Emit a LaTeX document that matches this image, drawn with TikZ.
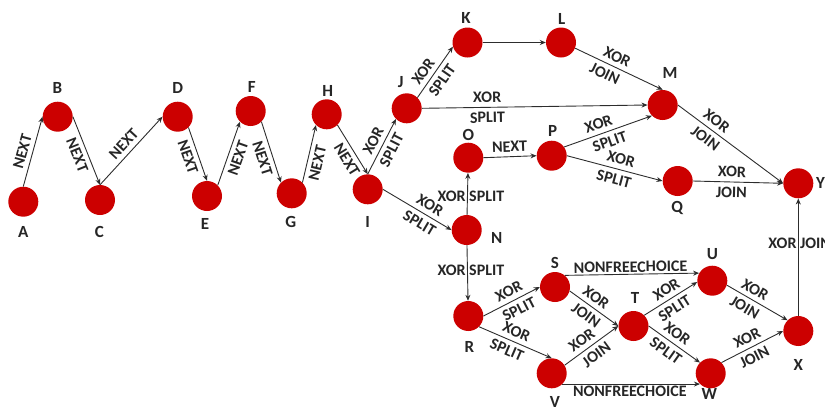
\documentclass[tikz,border=0pt]{standalone}
\usepackage{fontspec}
\setmainfont{Carlito}
\usetikzlibrary{arrows.meta}
\definecolor{nodered}{RGB}{204,0,0}
\definecolor{linegray}{RGB}{45,45,45}
\begin{document}
\begin{tikzpicture}[x=1pt,y=-1pt,
  st/.style={circle,fill=nodered,minimum size=30pt,inner sep=0pt},
  lett/.style={font=\fontsize{17}{17}\selectfont\bfseries,inner sep=0pt,text=black!85},
  arr/.style={draw=linegray,line width=0.9pt,-{Stealth[length=6pt,width=5pt]}},
  el/.style={font=\fontsize{16}{16}\selectfont\bfseries,inner sep=4.5pt,sloped,text=black!85},
  elc/.style={font=\fontsize{16}{16}\selectfont\bfseries,inner sep=1.3pt,text=black!85},
]
\useasboundingbox (0,0) rectangle (825,408);
% states
\node[st] (A) at (23.3,201.7) {};
\node[st] (B) at (57.7,116.7) {};
\node[st] (C) at (100,200) {};
\node[st] (D) at (177.7,116.7) {};
\node[st] (E) at (207,196) {};
\node[st] (F) at (250.7,111) {};
\node[st] (G) at (291.7,193.3) {};
\node[st] (H) at (326.7,114.3) {};
\node[st] (I) at (367.7,189.3) {};
\node[st] (J) at (406.7,108.3) {};
\node[st] (K) at (467.5,42.5) {};
\node[st] (L) at (561,42.5) {};
\node[st] (M) at (662.7,105) {};
\node[st] (N) at (466.7,230) {};
\node[st] (O) at (468.3,157.7) {};
\node[st] (P) at (551.7,155.7) {};
\node[st] (Q) at (677.7,181) {};
\node[st] (Y) at (798.3,183.3) {};
\node[st] (R) at (468.3,316) {};
\node[st] (S) at (555,287) {};
\node[st] (T) at (633.5,326) {};
\node[st] (U) at (712.3,280.7) {};
\node[st] (V) at (551.7,373.3) {};
\node[st] (W) at (710.7,373.3) {};
\node[st] (X) at (798.3,331) {};
% letters
\node[lett] (tA) at (23.3,232) {A};
\node[lett] (tB) at (57.3,88) {B};
\node[lett] (tC) at (99.3,231.7) {C};
\node[lett] (tD) at (177.7,88.3) {D};
\node[lett] (tE) at (205,224) {E};
\node[lett] (tF) at (251.7,86.7) {F};
\node[lett] (tG) at (290.7,221.7) {G};
\node[lett] (tH) at (327.7,90.7) {H};
\node[lett] (tI) at (367.7,221.7) {I};
\node[lett] (tJ) at (400.7,81.7) {J};
\node[lett] (tK) at (466,18.3) {K};
\node[lett] (tL) at (561.7,19.3) {L};
\node[lett] (tM) at (670,73.3) {M};
\node[lett] (tN) at (496.7,238.3) {N};
\node[lett] (tO) at (468.3,135) {O};
\node[lett] (tP) at (552.7,131) {P};
\node[lett] (tQ) at (677.3,207.7) {Q};
\node[lett] (tY) at (820.5,183.3) {Y};
\node[lett] (tR) at (469.3,347.3) {R};
\node[lett] (tS) at (555,263.3) {S};
\node[lett] (tT) at (635,298.3) {T};
\node[lett] (tU) at (712.3,254) {U};
\node[lett] (tV) at (555,402) {V};
\node[lett] (tW) at (709.3,394) {W};
\node[lett] (tX) at (798.3,365) {X};
% transitions
\draw[arr] (A.north) -- node[el,above,pos=0.46]{NEXT} (B.west);
\draw[arr] (B.east) -- node[el,below,pos=0.51]{NEXT} (C.north);
\draw[arr] (C.north) -- node[el,above,pos=0.5]{NEXT} (D.west);
\draw[arr] (D.south east) -- node[el,below,pos=0.49]{NEXT} (E.north);
\draw[arr] (E.north east) -- node[el,below,pos=0.48]{NEXT} (F.south west);
\draw[arr] (F.south east) -- node[el,below,pos=0.55]{NEXT} (G.north west);
\draw[arr] (G.north east) -- node[el,below,pos=0.38]{NEXT} (H.south west);
\draw[arr] (H.south east) -- node[el,below,pos=0.6]{NEXT} (I.north);
\draw[arr] (I.north) -- node[el,above,pos=0.52]{XOR} node[el,below,pos=0.52]{SPLIT} (J.south west);
\draw[arr] (I.east) -- node[el,above,pos=0.61]{XOR} node[el,below,pos=0.61]{SPLIT} (N.west);
\draw[arr] (J.north east) -- node[el,above,pos=0.4]{XOR} node[el,below,pos=0.46]{SPLIT} (K.196);
\draw[arr] (J.east) -- node[el,above,pos=0.29]{XOR} node[el,below,pos=0.29]{SPLIT} (M.west);
\draw[arr] (K.east) -- (L.west);
\draw[arr] (L.-22) -- node[el,above,pos=0.43]{XOR} node[el,below,pos=0.39]{JOIN} (M.north);
\draw[arr] (N) -- node[elc,anchor=east,pos=0.43]{XOR} node[elc,anchor=west,pos=0.43]{SPLIT} (O);
\draw[arr] (O.east) -- node[el,above,pos=0.5]{NEXT} (P.west);
\draw[arr] (P.35) -- node[el,above,pos=0.43]{XOR} node[el,below,pos=0.48]{SPLIT} (M.south west);
\draw[arr] (P.east) -- node[el,above,pos=0.54]{XOR} node[el,below,pos=0.52]{SPLIT} (Q.west);
\draw[arr] (M.east) -- node[el,above,pos=0.31]{XOR} node[el,below,pos=0.32]{JOIN} (Y.west);
\draw[arr] (Q.east) -- node[el,above,pos=0.43]{XOR} node[el,below,pos=0.43]{JOIN} (Y.west);
\draw[arr] (N) -- node[elc,anchor=east,pos=0.45]{XOR} node[elc,anchor=west,pos=0.45]{SPLIT} (R);
\draw[arr] (R.east) -- node[el,above,pos=0.53]{XOR} node[el,below,pos=0.55]{SPLIT} (S.west);
\draw[arr] (R.south east) -- node[el,above,pos=0.46]{XOR} node[el,below,pos=0.44]{SPLIT} (V.north);
\draw[arr] (S.-15) -- node[el,above,pos=0.42]{XOR} node[el,below,pos=0.46]{JOIN} (T.west);
\draw[arr] (V.32) -- node[el,above,pos=0.43]{XOR} node[el,below,pos=0.48]{JOIN} (T.west);
\draw[arr] (S.50) -- node[el,above,inner sep=1.5pt,pos=0.49]{NONFREECHOICE} (U.150);
\draw[arr] (V.south east) -- node[el,below,inner sep=1.5pt,pos=0.49]{NONFREECHOICE} (W.south west);
\draw[arr] (T.north east) -- node[el,above,pos=0.52]{XOR} node[el,below,pos=0.47]{SPLIT} (U.185);
\draw[arr] (T.east) -- node[el,above,pos=0.44]{XOR} node[el,below,pos=0.45]{SPLIT} (W.north west);
\draw[arr] (U.-17) -- node[el,above,pos=0.38]{XOR} node[el,below,pos=0.38]{JOIN} (X.north west);
\draw[arr] (W.north east) -- node[el,above,pos=0.49]{XOR} node[el,below,pos=0.46]{JOIN} (X.west);
\draw[arr] (X) -- node[elc,anchor=east,pos=0.62]{XOR} node[elc,anchor=west,pos=0.62]{JOIN} (Y);
\end{tikzpicture}
\end{document}
